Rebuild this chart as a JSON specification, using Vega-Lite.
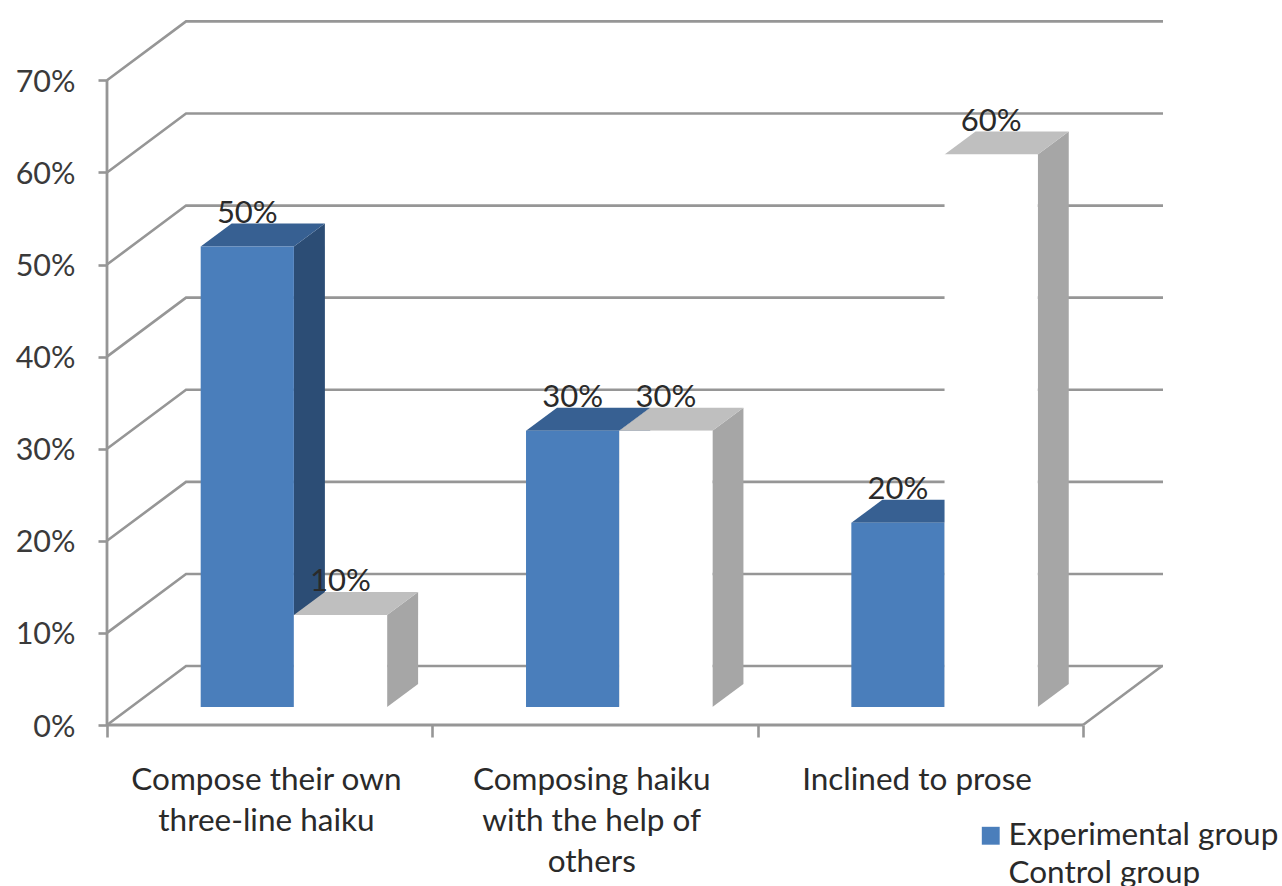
{
"$schema":"https://vega.github.io/schema/vega-lite/v6.json",
"width":1056,"height":705,
"autosize":{"type":"none"},
"padding":{"left":107,"top":20,"right":119,"bottom":161},
"background":"white",
"config":{"view":{"stroke":null},"font":"Lato"},
"data":{"values":[
{"category":"Compose their own\nthree-line haiku","group":"Experimental group","value":0.5},
{"category":"Compose their own\nthree-line haiku","group":"Control group","value":0.1},
{"category":"Composing haiku\nwith the help of\nothers","group":"Experimental group","value":0.3},
{"category":"Composing haiku\nwith the help of\nothers","group":"Control group","value":0.3},
{"category":"Inclined to prose","group":"Experimental group","value":0.2},
{"category":"Inclined to prose","group":"Control group","value":0.6}
]},
"transform":[
{"window":[{"op":"row_number","as":"idx"}],"groupby":["group"]},
{"calculate":"datum.group==='Control group'?1:0","as":"g"},
{"calculate":"datum.idx-1+0.288+datum.g*0.2865","as":"x0"},
{"calculate":"datum.x0+0.2865","as":"x1"},
{"calculate":"datum.value+0.0195","as":"t"},
{"calculate":"(datum.x0+datum.x1)/2","as":"xm"},
{"calculate":"datum.value+0.055","as":"yl"}
],
"layer":[
{"data":{"values":[{"level":0},{"level":0.1},{"level":0.2},{"level":0.3},{"level":0.4},{"level":0.5},{"level":0.6},{"level":0.7}]},
 "transform":[{"calculate":"[0,1,2]","as":"k"},{"flatten":["k"]},
  {"calculate":"[0,0.243,3.246][datum.k]","as":"wx"},
  {"calculate":"datum.level+(datum.k>0?0.064:0)","as":"wy"}],
 "mark":{"type":"line","color":"#969696","strokeWidth":2.6},
 "encoding":{
  "x":{"field":"wx","type":"quantitative","scale":{"domain":[0,3.246],"nice":false,"zero":false},
   "axis":{"values":[0,1,2,3],"labels":false,"domain":false,"grid":false,"title":null,"tickSize":12,"tickWidth":2.6,"tickColor":"#969696"}},
  "y":{"field":"wy","type":"quantitative","scale":{"domain":[0,0.7655],"nice":false,"zero":false},
   "axis":{"values":[0,0.1,0.2,0.3,0.4,0.5,0.6,0.7],"format":".0%","domain":false,"grid":false,"title":null,"tickSize":9,"tickWidth":2.6,"tickColor":"#969696","labelFont":"Lato","labelFontSize":30.5,"labelColor":"#3a3a3a","labelPadding":23,"labelOffset":2}},
  "detail":{"field":"level"}}},
{"data":{"values":[{"edge":"front right","a":3,"b":0,"c":3.243,"d":0.064}]},
 "mark":{"type":"rule","color":"#969696","strokeWidth":2.6},
 "encoding":{"x":{"field":"a","type":"quantitative"},"x2":{"field":"c"},"y":{"field":"b","type":"quantitative"},"y2":{"field":"d"}}},
{"data":{"values":[{"edge":"vertical","a":0,"b":0,"d":0.7}]},
 "mark":{"type":"rule","color":"#969696","strokeWidth":2.8},
 "encoding":{"x":{"field":"a","type":"quantitative"},"y":{"field":"b","type":"quantitative"},"y2":{"field":"d"}}},
{"data":{"values":[{"edge":"floor front","a":0,"c":3,"b":0}]},
 "mark":{"type":"rule","color":"#969696","strokeWidth":2.8},
 "encoding":{"x":{"field":"a","type":"quantitative"},"x2":{"field":"c"},"y":{"field":"b","type":"quantitative"}}},
{"transform":[{"filter":"datum.g===0"},{"calculate":"[0,1]","as":"k"},{"flatten":["k"]},
  {"calculate":"datum.x1+datum.k*0.0953","as":"sx"},{"calculate":"0.0195+datum.k*0.025","as":"sy"},{"calculate":"datum.t+datum.k*0.025","as":"sy2"}],
 "mark":{"type":"area","color":"#2c4d75","opacity":1},
 "encoding":{"x":{"field":"sx","type":"quantitative"},"y":{"field":"sy","type":"quantitative"},"y2":{"field":"sy2"},"detail":{"field":"idx"}}},
{"transform":[{"filter":"datum.g===0"},{"calculate":"[0,1,2,3]","as":"k"},{"flatten":["k"]},
  {"calculate":"[datum.x0,datum.x0+0.0953,datum.x1,datum.x1+0.0953][datum.k]","as":"tx"},
  {"calculate":"datum.t+(datum.k===3?0.025:0)","as":"ty"},{"calculate":"datum.t+(datum.k===0?0:0.025)","as":"ty2"}],
 "mark":{"type":"area","color":"#376092","opacity":1},
 "encoding":{"x":{"field":"tx","type":"quantitative"},"y":{"field":"ty","type":"quantitative"},"y2":{"field":"ty2"},"detail":{"field":"idx"}}},
{"transform":[{"filter":"datum.g===1"},{"calculate":"[0,1]","as":"k"},{"flatten":["k"]},
  {"calculate":"datum.x1+datum.k*0.0953","as":"sx"},{"calculate":"0.0195+datum.k*0.025","as":"sy"},{"calculate":"datum.t+datum.k*0.025","as":"sy2"}],
 "mark":{"type":"area","color":"#a6a6a6","opacity":1},
 "encoding":{"x":{"field":"sx","type":"quantitative"},"y":{"field":"sy","type":"quantitative"},"y2":{"field":"sy2"},"detail":{"field":"idx"}}},
{"transform":[{"filter":"datum.g===1"},{"calculate":"[0,1,2,3]","as":"k"},{"flatten":["k"]},
  {"calculate":"[datum.x0,datum.x0+0.0953,datum.x1,datum.x1+0.0953][datum.k]","as":"tx"},
  {"calculate":"datum.t+(datum.k===3?0.025:0)","as":"ty"},{"calculate":"datum.t+(datum.k===0?0:0.025)","as":"ty2"}],
 "mark":{"type":"area","color":"#bfbfbf","opacity":1},
 "encoding":{"x":{"field":"tx","type":"quantitative"},"y":{"field":"ty","type":"quantitative"},"y2":{"field":"ty2"},"detail":{"field":"idx"}}},
{"transform":[{"calculate":"0.0195","as":"base"}],
 "mark":{"type":"rect","opacity":1},
 "encoding":{"x":{"field":"x0","type":"quantitative"},"x2":{"field":"x1"},"y":{"field":"base","type":"quantitative"},"y2":{"field":"t"},
  "color":{"field":"group","type":"nominal","scale":{"domain":["Experimental group","Control group"],"range":["#4a7ebb","#ffffff"]},
   "legend":{"title":null,"orient":"none","legendX":868,"legendY":800,"symbolType":"square","symbolSize":320,"symbolStrokeWidth":0,"symbolOpacity":1,"labelFont":"Lato","labelFontSize":31.5,"labelColor":"#2a2a2a","labelOffset":2,"rowPadding":5,"labelLimit":320}}}},
{"mark":{"type":"text","font":"Lato","fontSize":31,"color":"#2a2a2a","baseline":"middle"},
 "encoding":{"x":{"field":"xm","type":"quantitative"},"y":{"field":"yl","type":"quantitative"},"text":{"field":"value","type":"quantitative","format":".0%"}}},
{"transform":[{"filter":"datum.g===0"},{"calculate":"datum.idx-1+0.49","as":"cx"},{"calculate":"-0.0435","as":"cy"}],
 "mark":{"type":"text","font":"Lato","fontSize":31.5,"color":"#2a2a2a","baseline":"top","lineBreak":"\n","lineHeight":41},
 "encoding":{"x":{"field":"cx","type":"quantitative"},"y":{"field":"cy","type":"quantitative"},"text":{"field":"category","type":"nominal"}}}
]
}
